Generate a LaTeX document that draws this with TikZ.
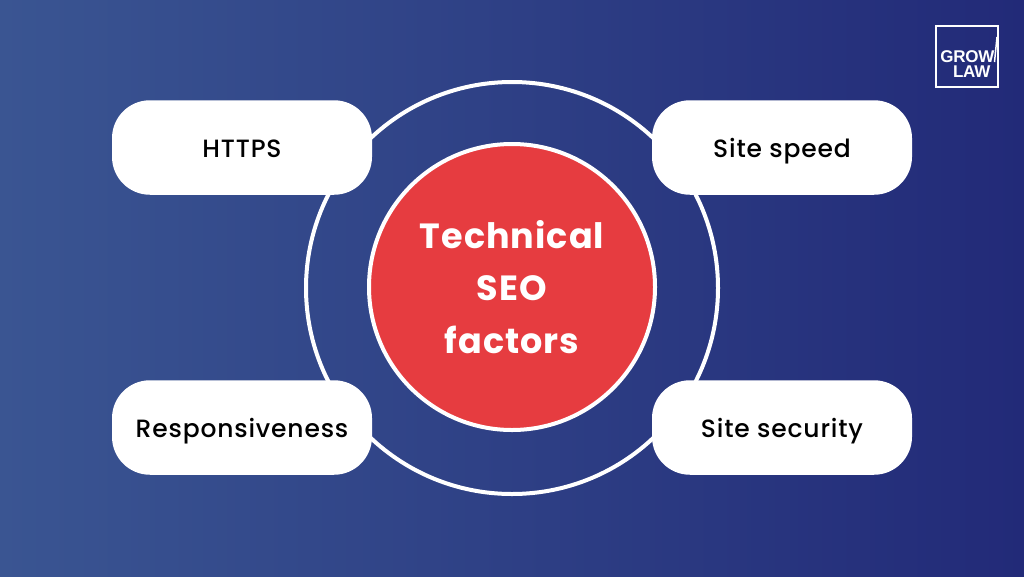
\documentclass[tikz,border=0pt]{standalone}
\usepackage{fontspec}
\setmainfont{Poppins}
\newfontfamily\logofont{Liberation Sans}
\newfontfamily\poppinsmed{Poppins Medium}
\definecolor{bgL}{HTML}{3A5592}
\definecolor{bgR}{HTML}{222A78}
\definecolor{redfill}{HTML}{E63C40}
\tikzset{
  card/.style={draw=none,fill=white,rounded corners=38pt,minimum width=260pt,minimum height=94.5pt,inner sep=0pt,text=black,text depth=0pt,text height=19pt,font=\poppinsmed\fontsize{25}{30}\selectfont\addfontfeatures{LetterSpace=3.3}},
  ring/.style={circle,draw=white,line width=4pt,inner sep=0pt},
  logotext/.style={text=white,inner sep=0pt,text depth=0pt,text height=12pt,font=\logofont\bfseries\fontsize{17}{17}\selectfont\addfontfeatures{LetterSpace=-1.6}}
}
\begin{document}
\begin{tikzpicture}[x=1pt,y=-1pt]
\useasboundingbox (0,0) rectangle (1024,576);
\shade[left color=bgL,right color=bgR] (0,0) rectangle (1024,576);
\node[ring,minimum size=412pt] (outer) at (512,288) {};
\node[ring,fill=redfill,minimum size=286pt,align=center,text=white,font=\bfseries\fontsize{35}{52.5}\selectfont\addfontfeatures{LetterSpace=3}] (core) at (512,287) {Technical\\SEO\\factors};
\node[card] (https) at (242,147.5) {HTTPS};
\node[card] (speed) at (782,147.5) {Site speed};
\node[card] (resp) at (242,427.5) {Responsiveness};
\node[card] (sec) at (782,427.5) {Site security};
\node[draw=white,line width=2pt,minimum width=62pt,minimum height=61pt,inner sep=0pt] (logo) at (967,56.5) {};
\node[logotext,anchor=base east] (grow) at (994.5,62) {GROW};
\node[logotext,anchor=base east] (law) at (990.5,77) {LAW};
\coordinate (tick) at (997,37);
\draw[white,line width=1.5pt] (grow.base east) -- (tick);
\end{tikzpicture}
\end{document}
